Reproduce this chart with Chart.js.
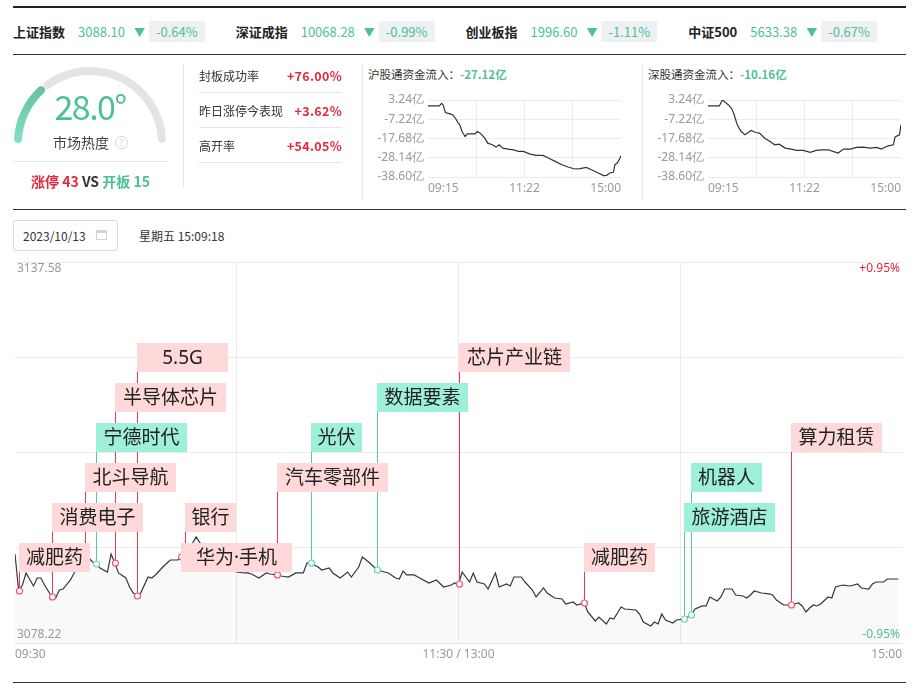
<!DOCTYPE html>
<html>
<head>
<meta charset="utf-8">
<script src="https://cdn.jsdelivr.net/npm/chart.js@4.4.0/dist/chart.umd.min.js"></script>
<style>
body { margin: 0; background: #fff; font-family: "Noto Sans CJK SC", "Noto Sans", sans-serif; color: #333; }
#page { position: relative; width: 923px; height: 695px; overflow: hidden; }
.rule { position: absolute; left: 13px; width: 893px; background: #222; }
.vsep { position: absolute; width: 1px; background: #e6e6e6; }
#idxRow { position: absolute; left: 13px; top: 21px; height: 21px; display: flex; align-items: center; font-size: 13px; white-space: nowrap; }
#idxRow .item { display: flex; align-items: center; margin-right: 31px; }
#idxRow .name { font-weight: bold; color: #222; margin-right: 13px; }
#idxRow .val { color: #4dbf99; margin-right: 9px; }
#idxRow .arr { color: #4dbf99; font-size: 11px; margin-right: 4px; }
#idxRow .chg { color: #4dbf99; background: #eef0f3; height: 21px; line-height: 21px; padding: 0 7px; }
.teal { color: #4dbf99; }
.red { color: #e8263b; }
#gaugeVal { position: absolute; left: 10px; width: 160px; top: 86px; text-align: center; font-size: 34px; color: #4dbf99; letter-spacing: -1.5px; line-height: 40px; }
#gaugeName { position: absolute; left: 53px; top: 133px; font-size: 14px; color: #444; line-height: 18px; }
#gaugeHelp { position: absolute; left: 115px; top: 136px; width: 11px; height: 11px; border: 1px solid #d6d6d6; border-radius: 50%; font-size: 9px; line-height: 11px; text-align: center; color: #d0d0d0; }
#limitRow { position: absolute; left: 13px; width: 155px; top: 171px; text-align: center; font-size: 14px; font-weight: bold; line-height: 20px; }
#stats { position: absolute; left: 199px; top: 58px; width: 143px; font-size: 12px; }
#stats .row { height: 34px; border-bottom: 1px solid #e6e6e6; display: flex; justify-content: space-between; align-items: center; }
#stats .v { font-weight: bold; color: #e8263b; font-size: 12.5px; letter-spacing: 0.3px; }
.flowTitle { position: absolute; top: 66px; font-size: 11.5px; color: #333; line-height: 16px; }
.flowTitle b { color: #4dbf99; }
#dateBox { position: absolute; left: 13px; top: 220px; width: 105px; height: 31px; border: 1px solid #d9d9d9; border-radius: 3px; box-sizing: border-box; font-size: 12px; line-height: 29px; padding-left: 9px; color: #333; }
#cal { position: absolute; left: 82px; top: 9px; width: 11px; height: 10px; border: 1px solid #d4d4d4; box-sizing: border-box; border-top-width: 3px; }
#weekday { position: absolute; left: 139px; top: 227px; font-size: 12px; line-height: 18px; color: #333; }
canvas { position: absolute; }
</style>
</head>
<body>
<div id="page">
  <div class="rule" style="top:6px;height:2px"></div>
  <div id="idxRow"></div>
  <div class="rule" style="top:54px;height:1px;background:#333"></div>

  <canvas id="gauge" width="160" height="82" style="left:10px;top:65px"></canvas>
  <div id="gaugeVal"></div>
  <div id="gaugeName">市场热度</div>
  <div id="gaugeHelp">?</div>
  <div style="position:absolute;left:13px;top:161px;width:155px;height:1px;background:#e6e6e6"></div>
  <div id="limitRow"></div>
  <div class="vsep" style="left:183px;top:64px;height:124px"></div>

  <div id="stats"></div>
  <div class="vsep" style="left:362px;top:64px;height:136px"></div>

  <div class="flowTitle" style="left:368px">沪股通资金流入：<b id="shTotal"></b></div>
  <canvas id="shFlowChart" width="260" height="109" style="left:366px;top:88px"></canvas>
  <div class="vsep" style="left:642px;top:64px;height:136px"></div>
  <div class="flowTitle" style="left:648px">深股通资金流入：<b id="szTotal"></b></div>
  <canvas id="szFlowChart" width="260" height="109" style="left:646px;top:88px"></canvas>

  <div class="rule" style="top:209px;height:1px;background:#333"></div>
  <div id="dateBox">2023/10/13<div id="cal"></div></div>
  <div id="weekday">星期五 15:09:18</div>

  <canvas id="mainChart" width="923" height="418" style="left:0;top:252px"></canvas>
  <div class="rule" style="top:682px;height:1px;background:#333"></div>
</div>

<script>
// index bar
const indexNames = ['上证指数', '深证成指', '创业板指', '中证500'];
const indexValues = ['3088.10', '10068.28', '1996.60', '5633.38'];
const indexChanges = ['-0.64%', '-0.99%', '-1.11%', '-0.67%'];

// market heat gauge
const heatValue = 28.0;
const heatMax = 100;
const limitUp = 43;
const limitOpened = 15;

// limit-up stats
const statNames = ['封板成功率', '昨日涨停今表现', '高开率'];
const statValues = ['+76.00%', '+3.62%', '+54.05%'];

// northbound flow (亿), minutes from 09:15
const flowTicks = [-38.60, -28.14, -17.68, -7.22, 3.24];
const flowTimeTicks = [0, 127.5, 255];
const flowTimeLabels = ['09:15', '11:22', '15:00'];
const flowGridMinutes = [63.75, 127.5, 191.25];
const shMinutes = [0, 15, 18, 20, 23, 29, 33, 37, 40, 42, 45, 49, 52, 57, 62, 65, 69, 75, 79, 85, 90, 94, 99, 106, 113, 119, 126, 135, 143, 152, 159, 168, 177, 185, 194, 201, 209, 216, 225, 232, 236, 240, 245, 247, 250, 253, 255];
const shFlow = [0, 0, 1.44, 0.54, -3.61, -4.33, -4.87, -7.22, -9.38, -10.28, -13.89, -16.59, -15.15, -15.15, -15.15, -13.89, -14.79, -17.49, -20.20, -21.10, -22.36, -21.10, -22.90, -23.44, -23.81, -24.71, -24.71, -26.15, -26.87, -26.87, -28.31, -30.12, -31.92, -33.18, -34.26, -34.08, -33.36, -34.62, -36.43, -37.87, -37.69, -36.43, -36.07, -31.92, -31.02, -28.85, -27.12];
const szMinutes = [0, 15, 19, 22, 27, 31, 34, 38, 41, 44, 49, 53, 57, 63, 68, 75, 82, 88, 94, 102, 110, 117, 126, 135, 143, 150, 159, 165, 172, 179, 188, 196, 205, 214, 223, 229, 238, 245, 247, 250, 253, 255];
const szFlow = [0, 0, 3.24, 2.34, 0.54, -1.27, -3.97, -9.38, -12.09, -13.89, -15.69, -14.43, -13.35, -14.43, -14.79, -17.49, -19.30, -21.10, -20.74, -22.90, -23.44, -24.17, -24.17, -25.25, -24.17, -23.81, -23.81, -24.71, -25.61, -23.44, -23.44, -22.54, -22.36, -22.90, -22.54, -23.44, -21.64, -21.10, -16.95, -16.23, -15.69, -10.16];

// SSE intraday, minutes from 09:30 (lunch break removed)
const priceLevels = [3078.22, 3093.06, 3107.90, 3122.74, 3137.58];
const rangeLabels = ['3137.58', '3078.22'];
const pctLabels = ['+0.95%', '-0.95%'];
const timeTicks = [0, 120, 240];
const timeLabels = ['09:30', '11:30 / 13:00', '15:00'];
const gridMinutes = [60, 120, 180];
const minutes = [0, 1, 2, 3, 5, 6, 7, 8, 10, 11, 12, 13, 15, 16, 18, 19, 20, 21, 22, 23, 25, 26, 27, 28, 30, 31, 32, 33, 34, 36, 37, 38, 40, 42, 44, 45, 46, 47, 49, 51, 53, 55, 57, 60, 62, 63, 64, 66, 68, 69, 71, 72, 74, 76, 78, 79, 80, 82, 83, 85, 86, 88, 90, 91, 93, 94, 96, 98, 100, 101, 103, 104, 105, 106, 108, 109, 112, 114, 116, 118, 119, 120, 121, 123, 124, 125, 127, 128, 130, 131, 133, 134, 135, 137, 138, 140, 141, 143, 144, 146, 148, 149, 151, 152, 154, 155, 157, 158, 160, 161, 162, 164, 165, 168, 169, 170, 172, 173, 174, 175, 176, 178, 179, 181, 183, 184, 186, 187, 188, 190, 191, 192, 194, 195, 197, 198, 199, 200, 202, 204, 205, 206, 208, 210, 212, 213, 214, 215, 216, 217, 218, 220, 221, 222, 224, 226, 228, 229, 231, 232, 233, 235, 236, 237, 239];
const prices = [3092.09, 3086.32, 3087.25, 3089.13, 3087.10, 3088.35, 3088.35, 3087.25, 3085.39, 3085.23, 3086.48, 3086.63, 3088.04, 3089.13, 3090.68, 3091.15, 3091.46, 3090.84, 3090.53, 3089.91, 3089.28, 3092.09, 3090.68, 3089.13, 3088.35, 3086.94, 3086.01, 3085.54, 3086.01, 3088.50, 3088.35, 3088.82, 3090.06, 3091.15, 3091.15, 3091.62, 3091.78, 3092.71, 3094.74, 3093.02, 3091.15, 3090.22, 3089.91, 3089.28, 3089.13, 3089.13, 3088.97, 3088.35, 3089.13, 3088.97, 3088.82, 3088.66, 3088.50, 3089.13, 3089.13, 3090.68, 3090.68, 3090.06, 3089.59, 3089.91, 3089.13, 3088.35, 3089.28, 3088.50, 3090.06, 3091.62, 3090.68, 3089.59, 3089.28, 3089.13, 3088.35, 3088.19, 3089.44, 3088.82, 3088.82, 3088.50, 3087.57, 3088.04, 3086.94, 3087.25, 3087.57, 3087.41, 3089.28, 3087.72, 3089.13, 3087.72, 3087.41, 3086.63, 3089.13, 3086.94, 3087.41, 3087.10, 3088.50, 3088.50, 3087.72, 3086.48, 3085.39, 3086.79, 3086.01, 3085.23, 3085.08, 3084.30, 3084.61, 3084.14, 3084.45, 3083.05, 3081.65, 3082.27, 3081.18, 3082.12, 3081.96, 3083.83, 3083.52, 3083.36, 3082.74, 3081.49, 3080.87, 3081.49, 3081.18, 3082.74, 3081.80, 3081.34, 3081.80, 3081.96, 3082.58, 3083.52, 3083.99, 3083.99, 3085.39, 3084.77, 3085.39, 3086.63, 3086.63, 3085.70, 3085.54, 3085.23, 3085.70, 3086.32, 3086.01, 3085.86, 3085.70, 3084.92, 3084.14, 3084.14, 3084.45, 3083.99, 3083.05, 3083.67, 3084.14, 3083.99, 3084.30, 3085.39, 3085.23, 3086.94, 3087.25, 3087.10, 3087.41, 3086.79, 3086.63, 3087.41, 3087.72, 3087.72, 3088.19, 3088.19, 3088.19];

// sector tags on the intraday line
const tagNames = ['减肥药', '消费电子', '北斗导航', '宁德时代', '半导体芯片', '5.5G', '华为·手机', '银行', '汽车零部件', '光伏', '数据要素', '芯片产业链', '减肥药', '旅游酒店', '机器人', '算力租赁'];
const tagMinutes = [1, 10, 19, 22, 27, 33, 45, 46, 71, 80, 98, 120, 154, 181, 183, 210];
const tagKinds = ['up', 'up', 'up', 'hot', 'up', 'up', 'up', 'up', 'up', 'hot', 'hot', 'up', 'up', 'hot', 'hot', 'up'];

const TEAL = '#4dbf99';
const RED = '#e8263b';

// ---- header ----
const idxRow = document.getElementById('idxRow');
indexNames.forEach((name, i) => {
    const item = document.createElement('div');
    item.className = 'item';
    item.innerHTML = `
        <span class="name">${name}</span>
        <span class="val">${indexValues[i]}</span>
        <span class="arr">▼</span>
        <span class="chg">${indexChanges[i]}</span>
    `;
    idxRow.appendChild(item);
});

document.getElementById('gaugeVal').textContent = heatValue.toFixed(1) + '°';
document.getElementById('limitRow').innerHTML =
    `<span class="red">涨停 ${limitUp}</span> <span style="color:#333">VS</span> <span class="teal">开板 ${limitOpened}</span>`;

const stats = document.getElementById('stats');
statNames.forEach((name, i) => {
    const row = document.createElement('div');
    row.className = 'row';
    row.innerHTML = `<span>${name}</span><span class="v">${statValues[i]}</span>`;
    stats.appendChild(row);
});

document.getElementById('shTotal').textContent = shFlow[shFlow.length - 1].toFixed(2) + '亿';
document.getElementById('szTotal').textContent = szFlow[szFlow.length - 1].toFixed(2) + '亿';

// ---- gauge ----
new Chart(document.getElementById('gauge'), {
    type: 'doughnut',
    data: {
        labels: ['热度', ''],
        datasets: [{
            data: [heatValue, heatMax - heatValue],
            backgroundColor: ctx => {
                if (ctx.dataIndex === 1) return '#e4e4e4';
                const g = ctx.chart.ctx.createLinearGradient(0, 80, 0, 0);
                g.addColorStop(0, '#86e0c5');
                g.addColorStop(1, '#5eb597');
                return g;
            },
            borderWidth: 0,
            borderRadius: 4
        }]
    },
    options: {
        responsive: false,
        animation: false,
        rotation: -90,
        circumference: 180,
        cutout: '89.5%',
        layout: { padding: { top: 2, bottom: 4, left: 4, right: 4 } },
        plugins: { legend: { display: false }, tooltip: { enabled: false } },
        events: []
    }
});

// ---- northbound flow charts ----
function makeFlowChart(id, mins, vals) {
    new Chart(document.getElementById(id), {
        type: 'line',
        data: {
            datasets: [{
                data: mins.map((m, i) => ({ x: m, y: vals[i] })),
                borderColor: '#333',
                borderWidth: 1.2,
                pointRadius: 0,
                tension: 0
            }]
        },
        options: {
            responsive: false,
            animation: false,
            events: [],
            layout: { padding: { top: 12, right: 5, left: 0, bottom: 0 } },
            plugins: { legend: { display: false }, tooltip: { enabled: false } },
            scales: {
                x: {
                    type: 'linear',
                    min: 0,
                    max: 255,
                    afterBuildTicks: s => { s.ticks = [0, 63.75, 127.5, 191.25, 255].map(v => ({ value: v })); },
                    afterFit: s => { s.height = 20; },
                    grid: {
                        drawTicks: false,
                        color: c => flowGridMinutes.includes(c.tick && c.tick.value) ? '#ececec' : 'rgba(0,0,0,0)'
                    },
                    border: { display: false },
                    ticks: {
                        autoSkip: false,
                        maxRotation: 0,
                        align: 'inner',
                        padding: 4,
                        color: '#999',
                        font: { size: 12, family: 'Noto Sans' },
                        callback: v => {
                            const k = flowTimeTicks.indexOf(v);
                            return k >= 0 ? flowTimeLabels[k] : '';
                        }
                    }
                },
                y: {
                    min: flowTicks[0],
                    max: flowTicks[flowTicks.length - 1],
                    afterBuildTicks: s => { s.ticks = flowTicks.map(v => ({ value: v })); },
                    afterFit: s => { s.width = 62; },
                    grid: { drawTicks: false, color: '#ececec' },
                    border: { display: false },
                    ticks: {
                        padding: 4,
                        color: '#999',
                        font: { size: 12, family: 'Noto Sans' },
                        callback: v => v.toFixed(2) + '亿'
                    }
                }
            }
        }
    });
}
makeFlowChart('shFlowChart', shMinutes, shFlow);
makeFlowChart('szFlowChart', szMinutes, szFlow);

// ---- intraday chart ----
function priceAt(m) {
    return prices[minutes.indexOf(m)];
}

const tagPlugin = {
    id: 'tags',
    afterDatasetsDraw(chart) {
        const { ctx, chartArea, scales: { x, y } } = chart;
        const rowBase = chartArea.top + 281;
        const boxH = 29;
        const pos = tagNames.map((name, i) => {
            const px = Math.round(x.getPixelForValue(tagMinutes[i]));
            return {
                px,
                py: y.getPixelForValue(priceAt(tagMinutes[i])),
                top: rowBase - 40 * (i % 6),
                w: 20 * [...name].length + 11
            };
        });
        ctx.save();
        // stems
        pos.forEach((p, i) => {
            ctx.strokeStyle = tagKinds[i] === 'up' ? '#e23a50' : '#55c9a3';
            ctx.lineWidth = 1;
            ctx.beginPath();
            ctx.moveTo(p.px + 0.5, p.py);
            ctx.lineTo(p.px + 0.5, p.top + boxH);
            ctx.stroke();
        });
        // markers
        pos.forEach((p, i) => {
            ctx.beginPath();
            ctx.arc(p.px + 0.5, p.py, 3, 0, Math.PI * 2);
            ctx.fillStyle = '#fff';
            ctx.fill();
            ctx.strokeStyle = tagKinds[i] === 'up' ? '#ea5a6c' : '#6fd6b4';
            ctx.lineWidth = 1.2;
            ctx.stroke();
        });
        // boxes
        ctx.font = '19px "Noto Sans", "Noto Sans CJK SC"';
        ctx.textAlign = 'center';
        ctx.textBaseline = 'middle';
        pos.forEach((p, i) => {
            ctx.fillStyle = tagKinds[i] === 'up' ? '#ffd9d9' : '#9ff0da';
            ctx.fillRect(p.px, p.top, p.w, boxH);
            ctx.fillStyle = '#222';
            ctx.fillText(tagNames[i], p.px + p.w / 2, p.top + boxH / 2 + 1);
        });
        ctx.restore();
    },
    afterDraw(chart) {
        const { ctx, chartArea } = chart;
        ctx.save();
        ctx.font = '12px "Noto Sans"';
        ctx.textBaseline = 'top';
        ctx.textAlign = 'left';
        ctx.fillStyle = '#999';
        ctx.fillText(rangeLabels[0], chartArea.left + 2, chartArea.top + 1);
        ctx.textAlign = 'right';
        ctx.fillStyle = RED;
        ctx.fillText(pctLabels[0], chartArea.right - 2, chartArea.top + 1);
        ctx.textBaseline = 'bottom';
        ctx.fillStyle = TEAL;
        ctx.fillText(pctLabels[1], chartArea.right - 2, chartArea.bottom - 2);
        ctx.textAlign = 'left';
        ctx.fillStyle = '#999';
        ctx.fillText(rangeLabels[1], chartArea.left + 2, chartArea.bottom - 2);
        ctx.restore();
    }
};

new Chart(document.getElementById('mainChart'), {
    type: 'line',
    data: {
        datasets: [{
            data: minutes.map((m, i) => ({ x: m, y: prices[i] })),
            borderColor: '#33343f',
            borderWidth: 1.2,
            pointRadius: 0,
            tension: 0,
            fill: 'start',
            backgroundColor: 'rgba(0,0,0,0.022)'
        }]
    },
    options: {
        responsive: false,
        animation: false,
        events: [],
        layout: { padding: { left: 15, right: 21, top: 10, bottom: 7 } },
        plugins: { legend: { display: false }, tooltip: { enabled: false } },
        scales: {
            x: {
                type: 'linear',
                min: 0,
                max: 240,
                afterBuildTicks: s => { s.ticks = [0, 60, 120, 180, 240].map(v => ({ value: v })); },
                afterFit: s => { s.height = 20; },
                grid: {
                    drawTicks: false,
                    color: c => gridMinutes.includes(c.tick && c.tick.value) ? '#ebebeb' : 'rgba(0,0,0,0)'
                },
                border: { display: true, color: '#e6e6e6' },
                ticks: {
                    autoSkip: false,
                    maxRotation: 0,
                    align: 'inner',
                    padding: 4,
                    color: '#999',
                    font: { size: 12, family: 'Noto Sans' },
                    callback: v => {
                        const k = timeTicks.indexOf(v);
                        return k >= 0 ? timeLabels[k] : '';
                    }
                }
            },
            y: {
                min: priceLevels[0],
                max: priceLevels[priceLevels.length - 1],
                afterBuildTicks: s => { s.ticks = priceLevels.map(v => ({ value: v })); },
                afterFit: s => { s.width = 0; },
                grid: { drawTicks: false, color: '#ebebeb' },
                border: { display: false },
                ticks: { display: false }
            }
        }
    },
    plugins: [tagPlugin]
});
</script>
</body>
</html>
